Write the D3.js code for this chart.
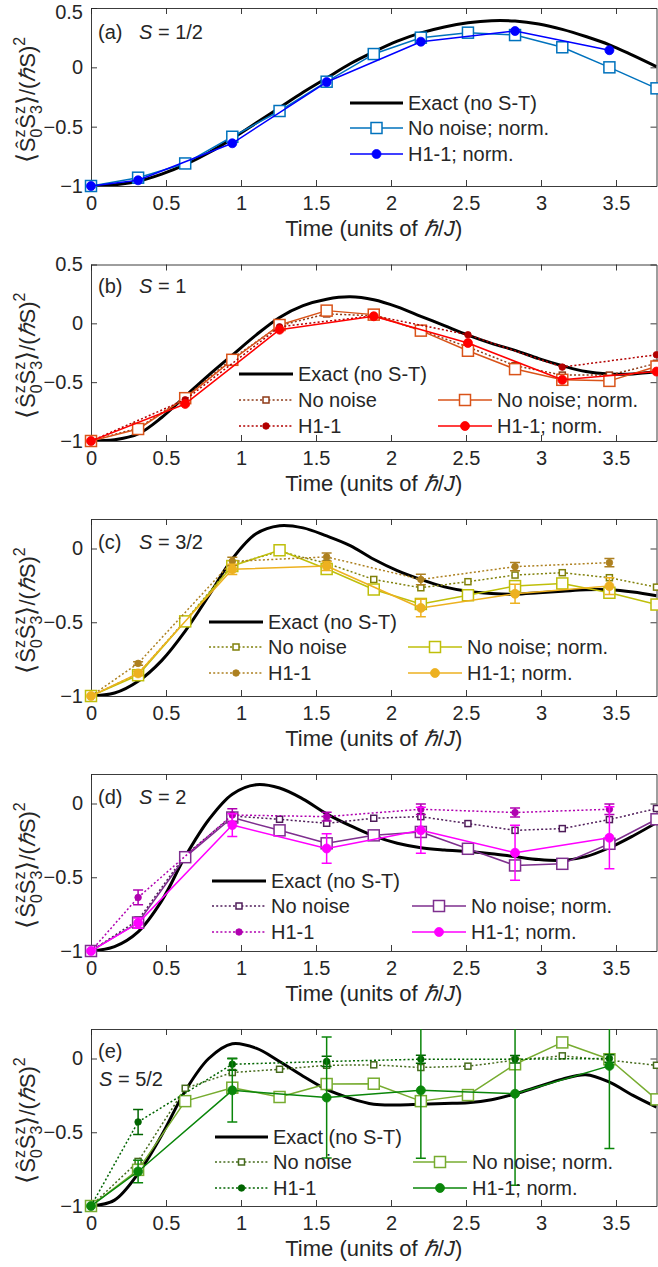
<!DOCTYPE html>
<html>
<head>
<meta charset="utf-8">
<script src="https://cdn.jsdelivr.net/npm/d3@7"></script>
<style>
  body { margin: 0; background: #fff; }
  svg text { font-family: "Liberation Sans", Arial, Helvetica, sans-serif; fill: #262626; }
</style>
</head>
<body>
<svg id="chart" width="658" height="1267"></svg>
<script>
// time points (units of hbar/J)
var tPts = [0, 0.314, 0.628, 0.942, 1.257, 1.571, 1.885, 2.199, 2.513, 2.827, 3.142, 3.456, 3.770];
var tOdd = [0, 0.314, 0.942, 1.571, 2.199, 2.827, 3.456];
var tEven = [0, 0.628, 1.257, 1.885, 2.513, 3.142, 3.770];
var tExact = [0, 0.157, 0.314, 0.471, 0.628, 0.785, 0.942, 1.100, 1.257, 1.414, 1.571, 1.728, 1.885,
              2.042, 2.199, 2.356, 2.513, 2.670, 2.827, 2.985, 3.142, 3.299, 3.456, 3.613, 3.770];

var xTicks = [0, 0.5, 1, 1.5, 2, 2.5, 3, 3.5];
var yTicksWide = [-1, -0.5, 0, 0.5];
var yTicksNarrow = [-1, -0.5, 0];

// (a) S = 1/2
var exactA = [-1, -0.99, -0.96, -0.9, -0.82, -0.72, -0.6, -0.47, -0.34, -0.21, -0.09, 0.03, 0.13,
              0.22, 0.29, 0.34, 0.375, 0.393, 0.39, 0.365, 0.32, 0.26, 0.19, 0.1, 0.005];
var noNormA = [-1, -0.93, -0.81, -0.585, -0.368, -0.121, 0.112, 0.25, 0.292, 0.272, 0.169, 0.0, -0.177];
var h1NormA = [-1, -0.952, -0.64, -0.124, 0.216, 0.306, 0.144];

// (b) S = 1
var exactB = [-1, -0.99, -0.94, -0.8, -0.62, -0.44, -0.27, -0.1, 0.05, 0.15, 0.205, 0.225, 0.2,
              0.14, 0.06, -0.02, -0.1, -0.17, -0.23, -0.3, -0.36, -0.41, -0.43, -0.43, -0.41];
var noNoiseB = [-1, -0.89, -0.63, -0.3, -0.02, 0.08, 0.065, -0.06, -0.2, -0.36, -0.44, -0.44, -0.34];
var noNormB = [-1, -0.898, -0.636, -0.31, -0.014, 0.108, 0.074, -0.062, -0.233, -0.389, -0.48, -0.489, -0.367];
var h1B = [-1, -0.65, -0.03, 0.065, -0.097, -0.372, -0.267];
var h1NormB = [-1, -0.685, -0.054, 0.06, -0.167, -0.48, -0.41];

// (c) S = 3/2
var exactC = [-1, -0.98, -0.9, -0.76, -0.56, -0.32, -0.07, 0.1, 0.155, 0.14, 0.085, 0.02, -0.073,
              -0.15, -0.21, -0.26, -0.29, -0.305, -0.31, -0.3, -0.29, -0.28, -0.28, -0.295, -0.32];
var noNoiseC = [-1, -0.85, -0.49, -0.11, -0.02, -0.1, -0.21, -0.266, -0.225, -0.18, -0.164, -0.198, -0.262];
var noNormC = [-1, -0.859, -0.494, -0.119, -0.012, -0.139, -0.278, -0.376, -0.317, -0.255, -0.237, -0.3, -0.38];
var h1C = [-1, -0.779, -0.087, -0.057, -0.21, -0.123, -0.096];
var h1ErrC = [0, 0.012, 0.028, 0.027, 0.036, 0.028, 0.028];
var h1NormC = [-1, -0.847, -0.141, -0.119, -0.403, -0.307, -0.255];
var h1NormErrC = [0, 0.015, 0.035, 0.03, 0.059, 0.065, 0.057];

// (d) S = 2
var exactD = [-1, -0.97, -0.87, -0.66, -0.36, -0.11, 0.063, 0.127, 0.105, 0.03, -0.07, -0.15, -0.22,
              -0.27, -0.3, -0.315, -0.325, -0.34, -0.36, -0.38, -0.385, -0.36, -0.3, -0.22, -0.13];
var noNoiseD = [-1, -0.79, -0.35, -0.085, -0.107, -0.134, -0.1, -0.089, -0.136, -0.182, -0.17, -0.109, -0.034];
var noNormD = [-1, -0.807, -0.364, -0.095, -0.182, -0.27, -0.216, -0.193, -0.307, -0.42, -0.409, -0.273, -0.107];
var h1D = [-1, -0.637, -0.078, -0.089, -0.039, -0.061, -0.039];
var h1ErrD = [0, 0.05, 0.043, 0.03, 0.035, 0.03, 0.035];
var h1NormD = [-1, -0.811, -0.146, -0.305, -0.182, -0.334, -0.232];
var h1NormErrD = [0, 0.034, 0.077, 0.1, 0.156, 0.187, 0.21];

// (e) S = 5/2
var exactE = [-1, -0.96, -0.78, -0.52, -0.22, 0.0, 0.1, 0.07, -0.02, -0.12, -0.21, -0.27, -0.31,
              -0.315, -0.31, -0.305, -0.3, -0.28, -0.24, -0.19, -0.14, -0.11, -0.16, -0.25, -0.33];
var noNoiseE = [-1, -0.698, -0.202, -0.095, -0.073, -0.046, -0.043, -0.061, -0.052, -0.012, 0.018, -0.012, -0.046];
var noNormE = [-1, -0.755, -0.289, -0.198, -0.261, -0.173, -0.171, -0.289, -0.248, -0.039, 0.109, -0.005, -0.277];
var h1E = [-1, -0.43, -0.039, -0.02, -0.005, -0.005, 0.0];
var h1ErrE = [0, 0.085, 0.04, 0.035, 0.027, 0.025, 0.025];
var h1NormE = [-1, -0.766, -0.216, -0.265, -0.216, -0.239, -0.05];
var h1NormErrE = [0, 0.077, 0.215, 0.41, 0.46, 0.62, 0.56];

var labels = ["Exact (no S-T)", "No noise", "No noise; norm.", "H1-1", "H1-1; norm."];
var DOT = "2,2.2";

function exact(v) { return { t: tExact, v: v, color: "#000", width: 3, smooth: true, label: labels[0] }; }

var panels = [
  { top: 8, bottom: 186, yDomain: [-1, 0.5], yTicks: yTicksWide, tag: "(a)", spin: "1/2", tagY: 38.5,
    series: [
      exact(exactA),
      { t: tPts, v: noNormA, color: "#0072BD", width: 1.5, marker: "bigSquare", label: labels[2] },
      { t: tOdd, v: h1NormA, color: "#0000FF", width: 1.5, marker: "bigCircle", label: labels[4] }
    ],
    legend: [[350, 403, 103, 0], [350, 403, 128, 1], [350, 403, 154, 2]] },
  { top: 264.5, bottom: 441, yDomain: [-1, 0.5], yTicks: yTicksWide, tag: "(b)", spin: "1", tagY: 292.5,
    series: [
      exact(exactB),
      { t: tPts, v: noNoiseB, color: "#8E3A17", width: 1.5, dash: DOT, marker: "smallSquare", label: labels[1] },
      { t: tPts, v: noNormB, color: "#D95319", width: 1.5, marker: "bigSquare", label: labels[2] },
      { t: tEven, v: h1B, color: "#B20000", width: 1.5, dash: DOT, marker: "smallCircle", label: labels[3] },
      { t: tEven, v: h1NormB, color: "#FF0000", width: 1.5, marker: "bigCircle", label: labels[4] }
    ],
    legend: [[239, 293, 374, 0], [239, 293, 400, 1], [438, 492, 400, 2], [239, 293, 426, 3], [438, 492, 426, 4]] },
  { top: 519, bottom: 696, yDomain: [-1, 0.2], yTicks: yTicksNarrow, tag: "(c)", spin: "3/2", tagY: 548.5,
    series: [
      exact(exactC),
      { t: tPts, v: noNoiseC, color: "#80800A", width: 1.5, dash: DOT, marker: "smallSquare", label: labels[1] },
      { t: tPts, v: noNormC, color: "#BFBF0A", width: 1.5, marker: "bigSquare", label: labels[2] },
      { t: tOdd, v: h1C, err: h1ErrC, color: "#AD8020", width: 1.5, dash: DOT, marker: "smallCircle", label: labels[3] },
      { t: tOdd, v: h1NormC, err: h1NormErrC, color: "#EDB120", width: 1.5, marker: "bigCircle", label: labels[4] }
    ],
    legend: [[209, 263, 622, 0], [209, 263, 647, 1], [408, 462, 647, 2], [209, 263, 673, 3], [408, 462, 673, 4]] },
  { top: 774, bottom: 951, yDomain: [-1, 0.2], yTicks: yTicksNarrow, tag: "(d)", spin: "2", tagY: 803.5,
    series: [
      exact(exactD),
      { t: tPts, v: noNoiseD, color: "#4F1D5A", width: 1.5, dash: DOT, marker: "smallSquare", label: labels[1] },
      { t: tPts, v: noNormD, color: "#7E2F8E", width: 1.5, marker: "bigSquare", label: labels[2] },
      { t: tOdd, v: h1D, err: h1ErrD, color: "#B000B0", width: 1.5, dash: DOT, marker: "smallCircle", label: labels[3] },
      { t: tOdd, v: h1NormD, err: h1NormErrD, color: "#FF00FF", width: 1.5, marker: "bigCircle", label: labels[4] }
    ],
    legend: [[212, 266, 881, 0], [212, 266, 906, 1], [412, 466, 906, 2], [212, 266, 932, 3], [412, 466, 932, 4]] },
  { top: 1029, bottom: 1206, yDomain: [-1, 0.2], yTicks: yTicksNarrow, tag: "(e)", spin: "5/2", tagY: 1058, twoLine: true,
    series: [
      exact(exactE),
      { t: tPts, v: noNoiseE, color: "#466B1C", width: 1.5, dash: DOT, marker: "smallSquare", label: labels[1] },
      { t: tPts, v: noNormE, color: "#77AC30", width: 1.5, marker: "bigSquare", label: labels[2] },
      { t: tOdd, v: h1E, err: h1ErrE, color: "#006400", width: 1.5, dash: DOT, marker: "smallCircle", label: labels[3] },
      { t: tOdd, v: h1NormE, err: h1NormErrE, color: "#0A860A", width: 1.5, marker: "bigCircle", label: labels[4] }
    ],
    legend: [[215, 268, 1137, 0], [215, 268, 1162, 1], [413, 467, 1162, 2], [215, 268, 1188, 3], [413, 467, 1188, 4]] }
];

var svg = d3.select("#chart");
var plotLeft = 91, plotRight = 656.5;
var x = d3.scaleLinear().domain([0, 3.77]).range([plotLeft, plotRight]);
var fmt = d3.format("~g");

panels.forEach(function(p, i) { drawPanel(p, i); });

function drawPanel(p, i) {
  var y = d3.scaleLinear().domain(p.yDomain).range([p.bottom, p.top]);
  var g = svg.append("g");
  var clipId = "clip" + i;

  g.append("clipPath").attr("id", clipId)
    .append("rect")
    .attr("x", plotLeft).attr("y", p.top)
    .attr("width", plotRight - plotLeft).attr("height", p.bottom - p.top);

  // box with inward ticks on all four sides
  var axes = [
    [d3.axisBottom(x).tickValues(xTicks).tickFormat(fmt).tickPadding(10), "translate(0," + p.bottom + ")"],
    [d3.axisTop(x).tickValues(xTicks).tickFormat(""), "translate(0," + p.top + ")"],
    [d3.axisLeft(y).tickValues(p.yTicks).tickFormat(fmt).tickPadding(8), "translate(" + plotLeft + ",0)"],
    [d3.axisRight(y).tickValues(p.yTicks).tickFormat(""), "translate(" + plotRight + ",0)"]
  ];
  axes.forEach(function(a, k) {
    var ax = g.append("g")
      .attr("transform", a[1])
      .call(a[0].tickSize(-6).tickSizeOuter(0))
      .attr("font-size", 20)
      .attr("font-family", null);
    ax.selectAll("path, line").attr("stroke", "#262626").attr("stroke-width", 0.9);
    ax.selectAll("text").attr("fill", "#262626");
    // top label of the first panel sits a little lower so it stays on the page
    if (k === 2 && p.top < 20) {
      ax.selectAll(".tick text").filter(function(d) { return d === p.yDomain[1]; }).attr("y", 4);
    }
  });

  // series
  p.series.forEach(function(s) { drawSeries(g, s, y, clipId); });

  // legend
  p.legend.forEach(function(L) {
    var s = p.series[L[3]];
    g.append("line")
      .attr("x1", L[0]).attr("x2", L[1]).attr("y1", L[2]).attr("y2", L[2])
      .attr("stroke", s.color).attr("stroke-width", s.width)
      .attr("stroke-dasharray", s.dash || null);
    if (s.marker) marker(g, s.marker, (L[0] + L[1]) / 2, L[2], s.color);
    g.append("text")
      .attr("x", L[1] + 5).attr("y", L[2]).attr("dy", "0.36em")
      .style("font-size", "20px")
      .text(s.label);
  });

  // panel tag
  g.append("text").attr("x", 98).attr("y", p.tagY).style("font-size", "20px").text(p.tag);
  var spin = g.append("text")
    .attr("x", p.twoLine ? 99 : 139)
    .attr("y", p.twoLine ? p.tagY + 28 : p.tagY)
    .style("font-size", "20px");
  spin.append("tspan").style("font-style", "italic").text("S");
  spin.append("tspan").text(" = " + p.spin);

  // y label
  yLabel(g, 35, (p.top + p.bottom) / 2 + 3);

  // x label
  var xl = g.append("text")
    .attr("x", (plotLeft + plotRight) / 2).attr("y", p.bottom + 50)
    .attr("text-anchor", "middle")
    .style("font-size", "22px");
  xl.append("tspan").text("Time (units of ");
  xl.append("tspan").style("font-style", "italic").text("ℏ");
  xl.append("tspan").text("/");
  xl.append("tspan").style("font-style", "italic").text("J");
  xl.append("tspan").text(")");
}

function drawSeries(g, s, y, clipId) {
  var pts = s.t.map(function(t, j) { return [t, s.v[j], s.err ? s.err[j] : 0]; });
  var line = d3.line().x(function(d) { return x(d[0]); }).y(function(d) { return y(d[1]); });
  if (s.smooth) line.curve(d3.curveCatmullRom);

  var sg = g.append("g").attr("clip-path", "url(#" + clipId + ")");
  sg.append("path")
    .datum(pts)
    .attr("d", line)
    .attr("fill", "none")
    .attr("stroke", s.color)
    .attr("stroke-width", s.width)
    .attr("stroke-dasharray", s.dash || null)
    .attr("stroke-linejoin", "round");

  if (s.err) {
    pts.filter(function(d) { return d[2] > 0; }).forEach(function(d) {
      var cx = x(d[0]), y1 = y(d[1] - d[2]), y2 = y(d[1] + d[2]);
      sg.append("line").attr("x1", cx).attr("x2", cx).attr("y1", y1).attr("y2", y2)
        .attr("stroke", s.color).attr("stroke-width", 1.5);
      [y1, y2].forEach(function(yy) {
        sg.append("line").attr("x1", cx - 5).attr("x2", cx + 5).attr("y1", yy).attr("y2", yy)
          .attr("stroke", s.color).attr("stroke-width", 1.5);
      });
    });
  }

  if (s.marker) {
    pts.forEach(function(d) { marker(g, s.marker, x(d[0]), y(d[1]), s.color); });
  }
}

function marker(g, type, cx, cy, color) {
  if (type === "bigSquare" || type === "smallSquare") {
    var sz = type === "bigSquare" ? 11 : 6;
    g.append("rect")
      .attr("x", cx - sz / 2).attr("y", cy - sz / 2)
      .attr("width", sz).attr("height", sz)
      .attr("fill", "#fff").attr("stroke", color).attr("stroke-width", 1.5);
  } else {
    g.append("circle")
      .attr("cx", cx).attr("cy", cy)
      .attr("r", type === "bigCircle" ? 4.5 : 3.3)
      .attr("fill", color).attr("stroke", color).attr("stroke-width", 0.8);
  }
}

function yLabel(g, cx, cy) {
  var t = g.append("text")
    .attr("transform", "translate(" + cx + "," + cy + ") rotate(-90)")
    .attr("text-anchor", "middle")
    .style("font-size", "22px");
  t.append("tspan").style("font-size", "26px").text("⟨");
  t.append("tspan").attr("dx", 1).text("Ŝ");
  t.append("tspan").attr("dy", -10).style("font-size", "16px").text("z");
  t.append("tspan").attr("dx", -8).attr("dy", 17).style("font-size", "16px").text("0");
  t.append("tspan").attr("dy", -7).text("Ŝ");
  t.append("tspan").attr("dy", -10).style("font-size", "16px").text("z");
  t.append("tspan").attr("dx", -8).attr("dy", 17).style("font-size", "16px").text("3");
  t.append("tspan").attr("dy", -7).style("font-size", "26px").text("⟩");
  t.append("tspan").text("/(");
  t.append("tspan").style("font-style", "italic").text("ℏ");
  t.append("tspan").text("S)");
  t.append("tspan").attr("dy", -10).style("font-size", "16px").text("2");
}
</script>
</body>
</html>
